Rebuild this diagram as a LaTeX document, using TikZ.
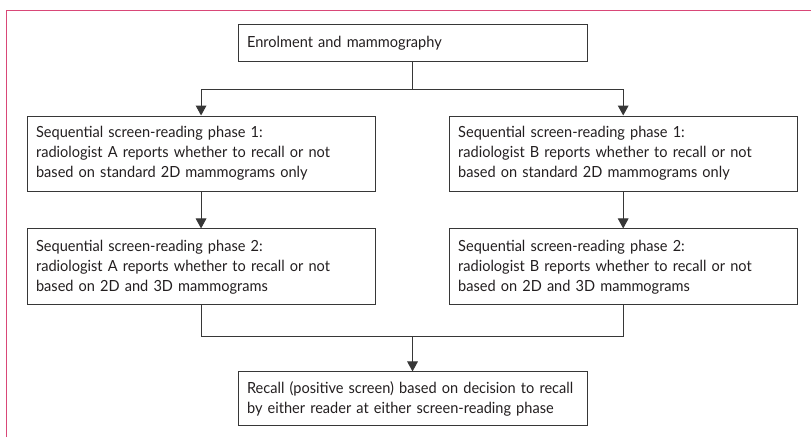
\documentclass[tikz,border=0pt]{standalone}
\usepackage{fontspec}
\setmainfont{Lato}[FakeStretch=0.95]
\usetikzlibrary{positioning,arrows.meta}
\definecolor{framepink}{RGB}{217,72,120}
\definecolor{linegray}{RGB}{55,55,55}
\definecolor{textgray}{RGB}{35,31,32}
\newcommand{\stagefont}{\fontsize{11.5}{15}\selectfont\hyphenpenalty=10000\relax}

\begin{document}
\begin{tikzpicture}[node distance=82.7pt,line width=0.75pt]
\tikzstyle{stage}=[draw=linegray,text=textgray,font=\stagefont,align=left,inner xsep=6.75pt,inner ysep=0pt,text width=247.5pt]
\tikzstyle{arr}=[draw=linegray,-{Triangle[width=8pt,length=7.5pt]}]
\useasboundingbox (0,0) rectangle (608.25pt,-327.75pt);
% frame
\draw[framepink] (4.5pt,-327.75pt) -- (4.5pt,-7.5pt) -- (608.25pt,-7.5pt);
\node [stage,minimum height=27.75pt,text width=248.25pt] (enrol) at (309.4pt,-32.6pt) {Enrolment and mammography};
\node [stage,minimum height=56.6pt,below of=enrol,xshift=-158.6pt] (a1) {Sequential screen-reading phase 1:\\radiologist A reports whether to recall or not\\based on standard 2D mammograms only};
\node [stage,minimum height=56.6pt,below of=enrol,xshift=158pt] (b1) {Sequential screen-reading phase 1:\\radiologist B reports whether to recall or not\\based on standard 2D mammograms only};
\node [stage,minimum height=57pt,below of=a1,yshift=-2.2pt] (a2) {Sequential screen-reading phase 2:\\radiologist A reports whether to recall or not\\based on 2D and 3D mammograms};
\node [stage,minimum height=57pt,below of=b1,yshift=-2.2pt] (b2) {Sequential screen-reading phase 2:\\radiologist B reports whether to recall or not\\based on 2D and 3D mammograms};
\node [stage,minimum height=40.5pt,text width=248.25pt,below of=a2,xshift=158.6pt,yshift=-16.3pt] (recall) {Recall (positive screen) based on decision to recall\\by either reader at either screen-reading phase};
% split and merge
\draw[draw=linegray] (enrol.south) -- ++(0,-20.25pt) coordinate (split);
\draw[arr] (split) -| (a1.north);
\draw[arr] (split) -| (b1.north);
\draw[arr] (a1) -- (a2);
\draw[arr] (b1) -- (b2);
\coordinate (merge) at ([yshift=-23.25pt]a2.south -| recall.north);
\draw[draw=linegray] (a2.south) |- (merge) -| (b2.south);
\draw[arr] (merge) -- (recall.north);
\end{tikzpicture}
\end{document}
